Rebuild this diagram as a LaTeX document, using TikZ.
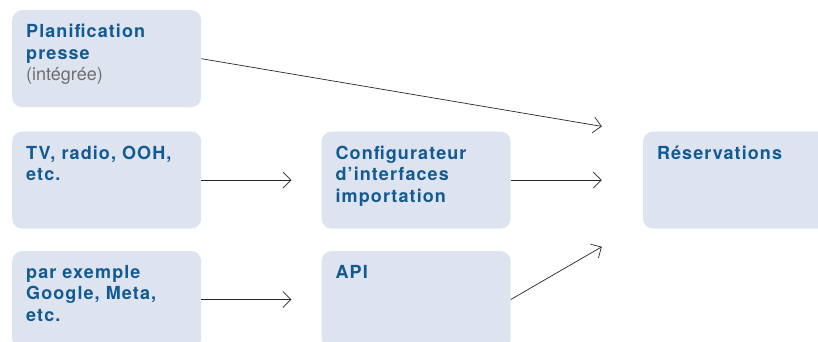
\documentclass[tikz,border=0pt]{standalone}
\usepackage{fontspec}
\setmainfont{TeX Gyre Heros}
\usetikzlibrary{positioning,arrows.meta}
\definecolor{boxfill}{HTML}{DEE3F0}
\definecolor{boxblue}{HTML}{115A92}
\definecolor{notegray}{HTML}{6E6E6E}
\newcommand{\boxtxt}[1]{\begin{minipage}[t][69pt][t]{161pt}\raggedright
  \fontsize{18pt}{21.5pt}\selectfont\bfseries\addfontfeatures{LetterSpace=6}\color{boxblue}#1\end{minipage}}
\newcommand{\notetxt}[1]{{\mdseries\addfontfeatures{LetterSpace=0}\color{notegray}#1}}
\begin{document}
\begin{tikzpicture}[x=1pt,y=-1pt,
  box/.style={fill=boxfill,rounded corners=10pt,inner xsep=14pt,inner ysep=14pt,anchor=north west},
  link/.style={-{Straight Barb[length=8pt,width=16pt]},line width=0.7pt,draw=black!85}]
\useasboundingbox (0,0) rectangle (818,342);
\clip (0,0) rectangle (818,342);
\node[box] (plan) at (12,10) {\boxtxt{Planification\\presse\\\notetxt{(intégrée)}}};
\node[box,below=24pt of plan] (tv) {\boxtxt{TV, radio, OOH,\\etc.}};
\node[box,below=22pt of tv] (ex) {\boxtxt{par exemple\\Google, Meta,\\etc.}};
\node[box,right=120pt of tv] (conf) {\boxtxt{Configurateur\\d’interfaces\\importation}};
\node[box,right=120pt of ex] (api) {\boxtxt{API}};
\node[box,right=132pt of conf] (res) {\boxtxt{Réservations}};
\coordinate (intop) at ([xshift=-41pt,yshift=5pt]res.north west);
\coordinate (inmid) at ([xshift=-41pt]res.west);
\coordinate (inbot) at ([xshift=-41pt,yshift=-18pt]res.south west);
\coordinate (inconf) at ([xshift=-30pt]conf.west);
\coordinate (inapi) at ([xshift=-30pt]api.west);
\draw[link] (plan.east) -- (intop);
\draw[link] (tv.east) -- (inconf);
\draw[link] (ex.east) -- (inapi);
\draw[link] (conf.east) -- (inmid);
\draw[link] (api.east) -- (inbot);
\end{tikzpicture}
\end{document}
